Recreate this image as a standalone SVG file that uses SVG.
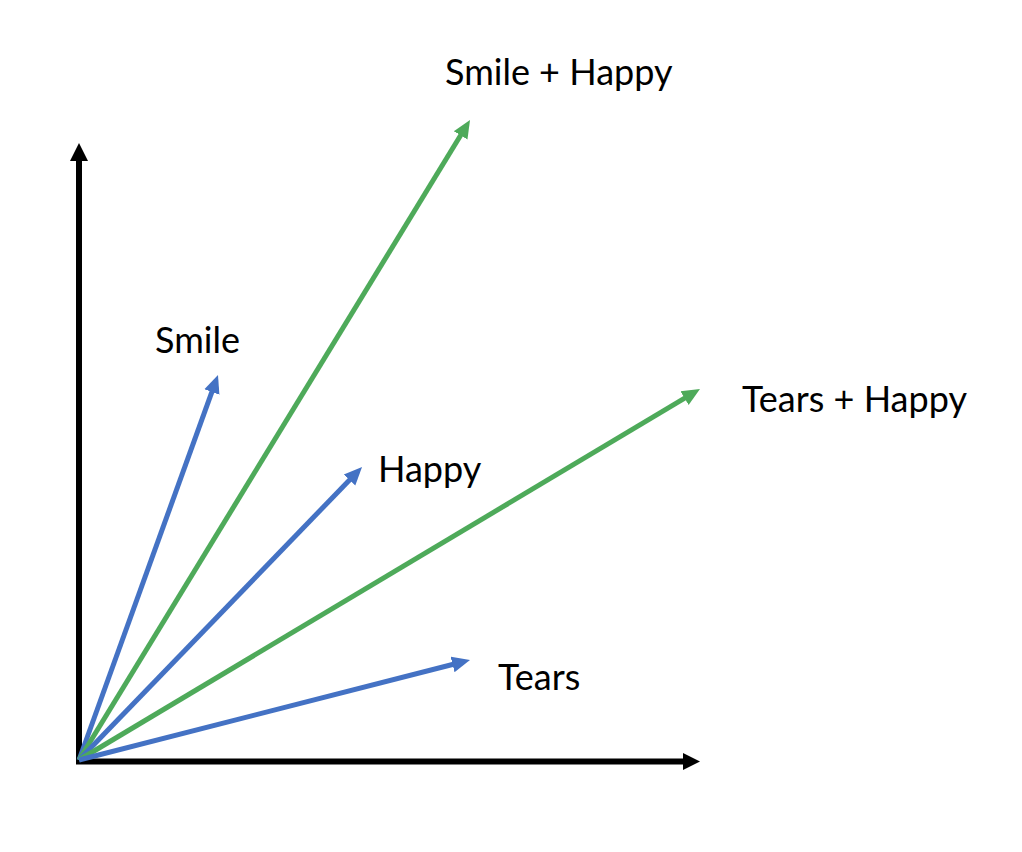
<svg xmlns="http://www.w3.org/2000/svg" width="1022" height="852" viewBox="0 0 1022 852">
<style>
.axis{stroke:#000;stroke-width:6;fill:none}
.blue{stroke:#4472C4;stroke-width:5;fill:none}
.green{stroke:#4EAA5A;stroke-width:5;fill:none}
.lbl{font-family:"Lato","Liberation Sans",sans-serif;font-size:36px;fill:#000}
</style>
<defs>
<marker id="hb" markerUnits="userSpaceOnUse" viewBox="0 -9 18 18" refX="8" refY="0" markerWidth="18" markerHeight="18" orient="auto"><path d="M0,-8 L18,0 L0,8 z" fill="#4472C4"/></marker>
<marker id="hg" markerUnits="userSpaceOnUse" viewBox="0 -9 18 18" refX="8" refY="0" markerWidth="18" markerHeight="18" orient="auto"><path d="M0,-8 L18,0 L0,8 z" fill="#4EAA5A"/></marker>
</defs>
<g id="axes">
<line class="axis" x1="79" y1="764" x2="79" y2="158"/>
<path d="M79,143 L88,161 L70,161 z" fill="#000"/>
<line class="axis" x1="76" y1="761.5" x2="685" y2="761.5"/>
<path d="M700,761.5 L683,770 L683,753 z" fill="#000"/>
</g>
<g id="connectors">
<line class="blue" x1="79" y1="760" x2="214.6" y2="384.4" marker-end="url(#hb)"/>
<line class="green" x1="79" y1="760" x2="464.8" y2="128.5" marker-end="url(#hg)"/>
<line class="blue" x1="79" y1="760" x2="355.1" y2="474.2" marker-end="url(#hb)"/>
<line class="green" x1="79" y1="760" x2="691.4" y2="394.1" marker-end="url(#hg)"/>
<line class="blue" x1="79" y1="760" x2="460.3" y2="662.5" marker-end="url(#hb)"/>
</g>
<g id="smile-happy"><text class="lbl" x="445" y="85">Smile + Happy</text></g>
<g id="smile"><text class="lbl" x="155" y="353">Smile</text></g>
<g id="happy"><text class="lbl" x="378" y="482">Happy</text></g>
<g id="tears-happy"><text class="lbl" x="742" y="412">Tears + Happy</text></g>
<g id="tears"><text class="lbl" x="498" y="690">Tears</text></g>
</svg>
